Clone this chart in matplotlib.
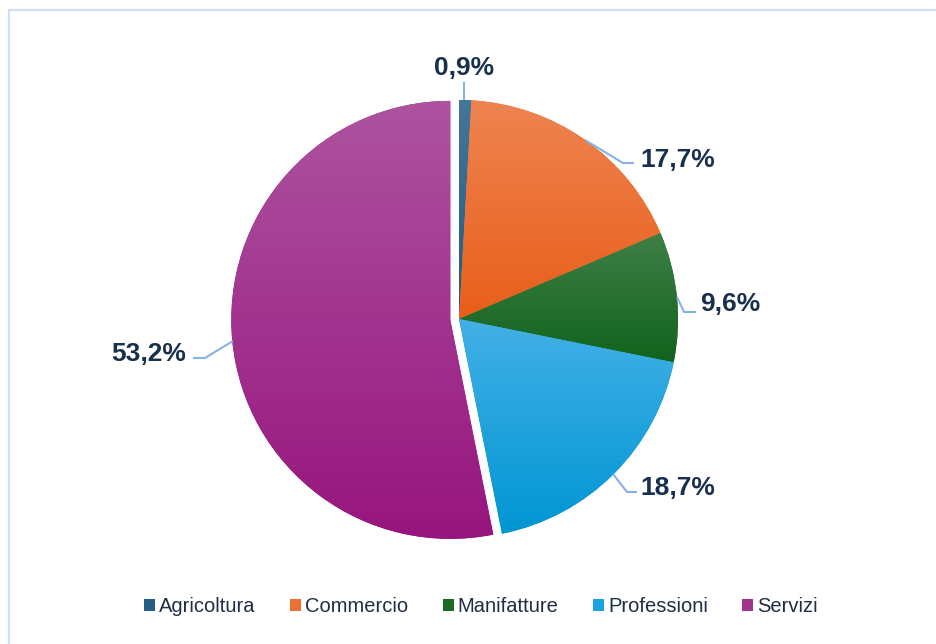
import numpy as np
import matplotlib
matplotlib.use("Agg")
import matplotlib.pyplot as plt
from matplotlib.patches import Rectangle, Patch
from matplotlib.colors import LinearSegmentedColormap

categories = ["Agricoltura", "Commercio", "Manifatture", "Professioni", "Servizi"]
values = [0.9, 17.7, 9.6, 18.7, 53.2]
labels = ["0,9%", "17,7%", "9,6%", "18,7%", "53,2%"]

top_colors = ["#44779A", "#EF8451", "#3F7F47", "#43B0E6", "#AD539F"]
bottom_colors = ["#1E5A80", "#E85E1A", "#11631D", "#0096D3", "#97157E"]
legend_colors = ["#245F84", "#EC7034", "#1A6B26", "#1BA3DD", "#A0338D"]
explode = [0, 0, 0, 0, 0.04]

W, H = 936, 644
R = 219.0
cx, cy = 459.0, 319.0

fig = plt.figure(figsize=(W / 100, H / 100), dpi=100)
ax = fig.add_axes([0, 0, 1, 1])

# border
fig.patches.append(Rectangle((8.5 / W, -0.1), 1.2, 1.1 - 10.5 / H, transform=fig.transFigure,
                             fill=False, edgecolor="#CFE0F5", linewidth=1.6, zorder=0))

wedges, _ = ax.pie(values, startangle=90, counterclock=False, explode=explode,
                   radius=1, center=(0, 0), wedgeprops=dict(linewidth=0),
                   frame=True)

grad = np.linspace(0, 1, 256).reshape(-1, 1)
for w, tc, bc in zip(wedges, top_colors, bottom_colors):
    w.set_facecolor(bc)
    ext = w.get_path().get_extents()
    cmap = LinearSegmentedColormap.from_list("g", [tc, bc])
    im = ax.imshow(grad, cmap=cmap, aspect="auto",
                   extent=[ext.x0, ext.x1, ext.y0, ext.y1], origin="upper",
                   interpolation="bilinear", zorder=2)
    im.set_clip_path(w)

ax.set_xlim(-cx / R, (W - cx) / R)
ax.set_ylim(-(H - cy) / R, cy / R)
ax.set_aspect("equal")
ax.axis("off")

def px(x, y):
    return ((x - cx) / R, (cy - y) / R)

# label placements (pixel positions) and leader line geometry
label_pos = [(464, 68, "center"), (640, 160, "left"), (700, 304, "left"),
             (640, 488, "left"), (186, 354, "right")]
leader_pts = [[(464, 100), (464, 82)],
              [(585, 140), (623, 163), (634, 163)],
              [(677, 297), (684, 312), (696, 312)],
              [(613, 474), (627, 492), (637, 492)],
              [(233, 341), (205, 358), (193, 358)]]

label_color = "#17304D"
for (lx, ly, ha), lab, pts in zip(label_pos, labels, leader_pts):
    xy = [px(*p) for p in pts]
    ax.plot([p[0] for p in xy], [p[1] for p in xy], color="#84B3E8",
            linewidth=1.5, zorder=3, solid_capstyle="butt")
    tx, ty = px(lx, ly)
    ax.text(tx, ty, lab, ha=ha, va="center", fontsize=19, fontweight="bold",
            color=label_color, family=["Liberation Sans", "DejaVu Sans"], zorder=4)

handles = [Patch(facecolor=c, edgecolor="none") for c in legend_colors]
leg = fig.legend(handles, categories, loc="center", ncol=5,
                 bbox_to_anchor=(481 / W, 1 - 607 / H), frameon=False,
                 prop={"family": ["Liberation Sans", "DejaVu Sans"], "size": 14.5},
                 handlelength=0.55, handleheight=0.55, handletextpad=0.2,
                 columnspacing=1.7, borderaxespad=0)
for t in leg.get_texts():
    t.set_color("#1E2E45")

fig.savefig("out.png", dpi=100)
